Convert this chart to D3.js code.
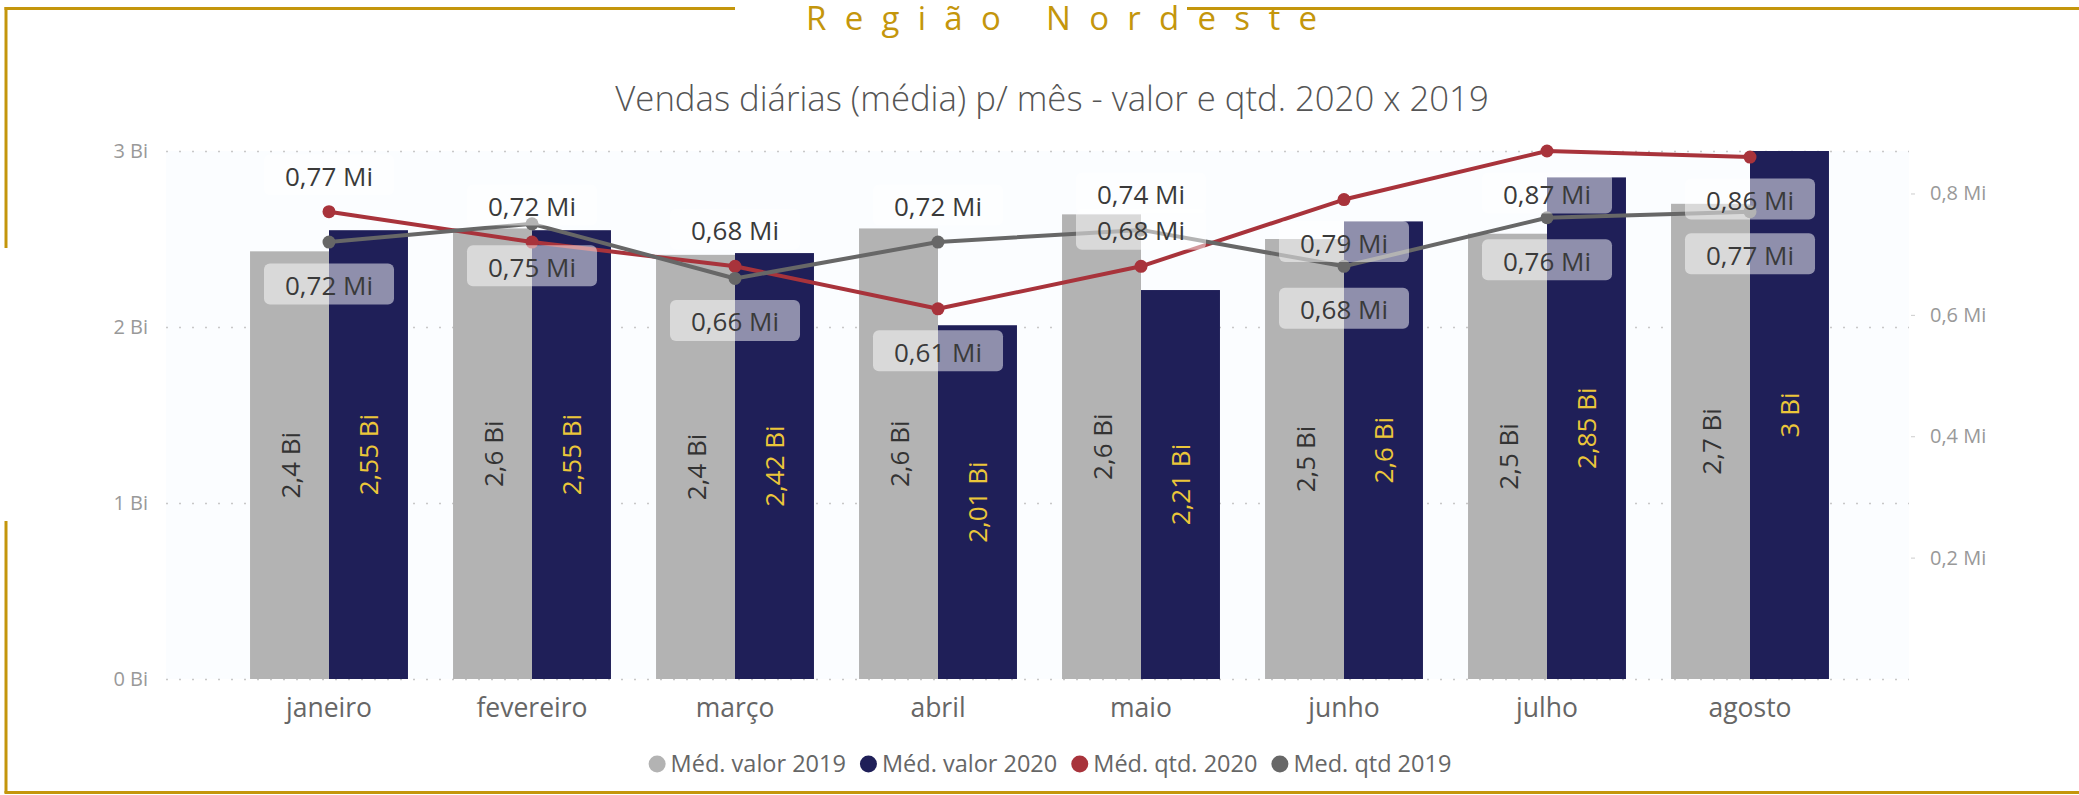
<!DOCTYPE html>
<html>
<head>
<meta charset="utf-8">
<title>Região Nordeste</title>
<script src="https://d3js.org/d3.v7.min.js"></script>
<style>
    body { margin: 0; background: #fff; overflow: hidden; }
    svg { display: block; font-family: "Open Sans", sans-serif; }
    svg text { font-family: "Open Sans", sans-serif; }
    .frame { stroke: #c4960c; stroke-width: 3; fill: none; }
    .regionTitle { fill: #c4960c; font-size: 33px; }
    .chartTitle { fill: #555; font-size: 34.7px; font-weight: 300; }
    .gridLines line { stroke: #c8c8c8; stroke-width: 1.5; stroke-dasharray: 2,11; }
    .gridLines text, .rightAxis text { fill: #999; font-size: 20px; }
    .rightAxis line { stroke: #ccc; }
    .xAxis text { fill: #666; font-size: 26.5px; }
    .barLabel { font-size: 26px; }
    .lineLabel text { fill: #3a3a3a; font-size: 26px; }
    .legend text { fill: #666; font-size: 23.5px; }
</style>
</head>
<body>
<script>
(function(){

    //data
    var months = ["janeiro", "fevereiro", "março", "abril", "maio", "junho", "julho", "agosto"];
    var valor2019 = [2.43, 2.56, 2.41, 2.56, 2.64, 2.50, 2.53, 2.70];   // Bi
    var valor2020 = [2.55, 2.55, 2.42, 2.01, 2.21, 2.60, 2.85, 3.00];   // Bi
    var qtd2020 = [0.77, 0.72, 0.68, 0.61, 0.68, 0.79, 0.87, 0.86];     // Mi
    var qtd2019 = [0.72, 0.75, 0.66, 0.72, 0.74, 0.68, 0.76, 0.77];     // Mi
    var leftTicks = [0, 1, 2, 3];
    var rightTicks = [0.2, 0.4, 0.6, 0.8];
    var seriesNames = ["Méd. valor 2019", "Méd. valor 2020", "Méd. qtd. 2020", "Med. qtd 2019"];

    //where power bi put the point labels
    var qtd2020Side = ["above", "above", "above", "below", "above", "below", "below", "below"];
    var qtd2019Side = ["below", "below", "below", "above", "above", "below", "below", "below"];

    var colors = {
        v2019: "#b3b3b3",
        v2020: "#1f1f58",
        q2020: "#a8333b",
        q2019: "#676767"
    };

    //frame dimensions
    var width = 2079,
        height = 795,
        gridLeft = 166,
        gridRight = 1909,
        plotTop = 151,
        plotBottom = 679,
        bandLeft = 227.5,
        bandRight = 1851.5;

    var ptBR = d3.formatLocale({decimal: ",", thousands: ".", grouping: [3], currency: ["R$", ""]});
    var fmt2019 = ptBR.format(".2~r"),
        fmt2020 = ptBR.format(".3~r"),
        fmtQtd = ptBR.format(".2f");

    var svg = d3.select("body")
        .append("svg")
        .attr("width", width)
        .attr("height", height);

    drawFrame();

    //scales
    var x0 = d3.scaleBand()
        .domain(months)
        .range([bandLeft, bandRight])
        .paddingInner(0.222)
        .paddingOuter(0.111);

    var x1 = d3.scaleBand()
        .domain(["v2019", "v2020"])
        .range([0, x0.bandwidth()]);

    var yLeft = d3.scaleLinear()
        .domain([0, d3.max(valor2020.concat(valor2019))])
        .range([plotBottom, plotTop]);

    var yRight = d3.scaleLinear()
        .domain([0, d3.max(qtd2020.concat(qtd2019))])
        .range([plotBottom, plotTop]);

    //chart title
    svg.append("text")
        .attr("class", "chartTitle")
        .attr("x", 1052)
        .attr("y", 111)
        .attr("text-anchor", "middle")
        .text("Vendas diárias (média) p/ mês - valor e qtd. 2020 x 2019");

    //faint plot background
    svg.append("rect")
        .attr("x", gridLeft)
        .attr("y", plotTop)
        .attr("width", gridRight - gridLeft)
        .attr("height", plotBottom - plotTop)
        .style("fill", "#fbfdff");

    //left axis + gridlines
    var grid = svg.append("g")
        .attr("class", "gridLines")
        .attr("transform", "translate(" + gridLeft + ",0)")
        .call(d3.axisLeft(yLeft)
            .tickValues(leftTicks)
            .tickSizeInner(-(gridRight - gridLeft))
            .tickSizeOuter(0)
            .tickPadding(18)
            .tickFormat(function(d){ return d + " Bi"; }));
    grid.select(".domain").remove();

    //right axis
    var rAxis = svg.append("g")
        .attr("class", "rightAxis")
        .attr("transform", "translate(" + (gridRight + 2) + ",0)")
        .call(d3.axisRight(yRight)
            .tickValues(rightTicks)
            .tickSizeInner(4)
            .tickSizeOuter(0)
            .tickPadding(15)
            .tickFormat(function(d){ return fmtQtd(d).replace(/0$/, "") + " Mi"; }));
    rAxis.select(".domain").remove();

    //x axis
    var xAxis = svg.append("g")
        .attr("class", "xAxis")
        .attr("transform", "translate(0," + plotBottom + ")")
        .call(d3.axisBottom(x0).tickSize(0).tickPadding(19));
    xAxis.select(".domain").remove();

    //drop the axis default font so the page font is used
    svg.selectAll(".gridLines, .rightAxis, .xAxis").attr("font-family", null).attr("font-size", null);

    //bars
    var barData = months.map(function(m, i){
        return {month: m, values: [
            {key: "v2019", value: valor2019[i], label: fmt2019(valor2019[i]) + " Bi"},
            {key: "v2020", value: valor2020[i], label: fmt2020(valor2020[i]) + " Bi"}
        ]};
    });

    var groups = svg.selectAll(".monthGroup")
        .data(barData)
        .enter()
        .append("g")
        .attr("class", "monthGroup")
        .attr("transform", function(d){ return "translate(" + x0(d.month) + ",0)"; });

    groups.selectAll("rect")
        .data(function(d){ return d.values; })
        .enter()
        .append("rect")
        .attr("x", function(d){ return x1(d.key); })
        .attr("width", x1.bandwidth())
        .attr("y", function(d){ return yLeft(d.value); })
        .attr("height", function(d){ return plotBottom - yLeft(d.value); })
        .style("fill", function(d){ return colors[d.key]; });

    groups.selectAll(".barLabel")
        .data(function(d){ return d.values; })
        .enter()
        .append("text")
        .attr("class", "barLabel")
        .attr("transform", function(d){
            var cx = x1(d.key) + x1.bandwidth() / 2,
                cy = (yLeft(d.value) + plotBottom) / 2;
            return "translate(" + cx + "," + cy + ") rotate(-90)";
        })
        .attr("text-anchor", "middle")
        .attr("dominant-baseline", "central")
        .style("fill", function(d){ return d.key == "v2020" ? "#ebc63a" : "#333"; })
        .text(function(d){ return d.label; });

    //lines
    var cx = function(d, i){ return x0(months[i]) + x0.bandwidth() / 2; };

    drawLine(qtd2020, colors.q2020);
    drawLine(qtd2019, colors.q2019);

    drawLabels(qtd2020, qtd2020Side);
    drawLabels(qtd2019, qtd2019Side);

    drawLegend();

    function drawLine(values, color){
        var line = d3.line()
            .x(cx)
            .y(function(d){ return yRight(d); });

        svg.append("path")
            .datum(values)
            .attr("d", line)
            .style("fill", "none")
            .style("stroke", color)
            .style("stroke-width", 4)
            .style("stroke-linejoin", "round");

        svg.selectAll(null)
            .data(values)
            .enter()
            .append("circle")
            .attr("cx", cx)
            .attr("cy", function(d){ return yRight(d); })
            .attr("r", 6.5)
            .style("fill", color);
    };

    function drawLabels(values, sides){
        var labels = svg.selectAll(null)
            .data(values)
            .enter()
            .append("g")
            .attr("class", "lineLabel")
            .attr("transform", function(d, i){
                var y = yRight(d) + (sides[i] == "above" ? -37 : 42);
                return "translate(" + cx(d, i) + "," + y + ")";
            });

        var rects = labels.append("rect")
            .attr("height", 41)
            .attr("y", -20.5)
            .attr("rx", 6)
            .style("fill", "#fff")
            .style("fill-opacity", 0.5);

        labels.append("text")
            .attr("text-anchor", "middle")
            .attr("dominant-baseline", "central")
            .attr("y", 1)
            .text(function(d){ return fmtQtd(d) + " Mi"; });

        rects.each(function(){
            var w = this.parentNode.querySelector("text").getComputedTextLength() + 42;
            d3.select(this).attr("x", -w / 2).attr("width", w);
        });
    };

    function drawLegend(){
        var keys = ["v2019", "v2020", "q2020", "q2019"];
        var legend = svg.append("g").attr("class", "legend");
        var pos = 0;
        seriesNames.forEach(function(name, i){
            var item = legend.append("g").attr("transform", "translate(" + pos + ",0)");
            item.append("circle")
                .attr("cx", 8.5)
                .attr("cy", -8)
                .attr("r", 8.5)
                .style("fill", colors[keys[i]]);
            var t = item.append("text")
                .attr("x", 22)
                .text(name);
            pos += 22 + t.node().getComputedTextLength() + 14;
        });
        var total = pos - 14;
        legend.attr("transform", "translate(" + (1050 - total / 2) + ",772)");
    };

    function drawFrame(){
        var gold = svg.append("g").attr("class", "frame");
        //top line, broken by the region title
        gold.append("line").attr("x1", 4.5).attr("x2", 735).attr("y1", 8.5).attr("y2", 8.5);
        gold.append("line").attr("x1", 1187).attr("x2", width).attr("y1", 8.5).attr("y2", 8.5);
        //left side, with its gap
        gold.append("line").attr("x1", 6).attr("x2", 6).attr("y1", 7).attr("y2", 248);
        gold.append("line").attr("x1", 6).attr("x2", 6).attr("y1", 521).attr("y2", 793);
        //bottom
        gold.append("line").attr("x1", 4.5).attr("x2", width).attr("y1", 792.5).attr("y2", 792.5);

        var head = svg.append("text")
            .attr("class", "regionTitle")
            .attr("x", 806)
            .attr("y", 30)
            .text("Região Nordeste");
        var w0 = head.node().getComputedTextLength();
        head.style("letter-spacing", ((511 - w0) / 14) + "px");
    };

})();
</script>
</body>
</html>
